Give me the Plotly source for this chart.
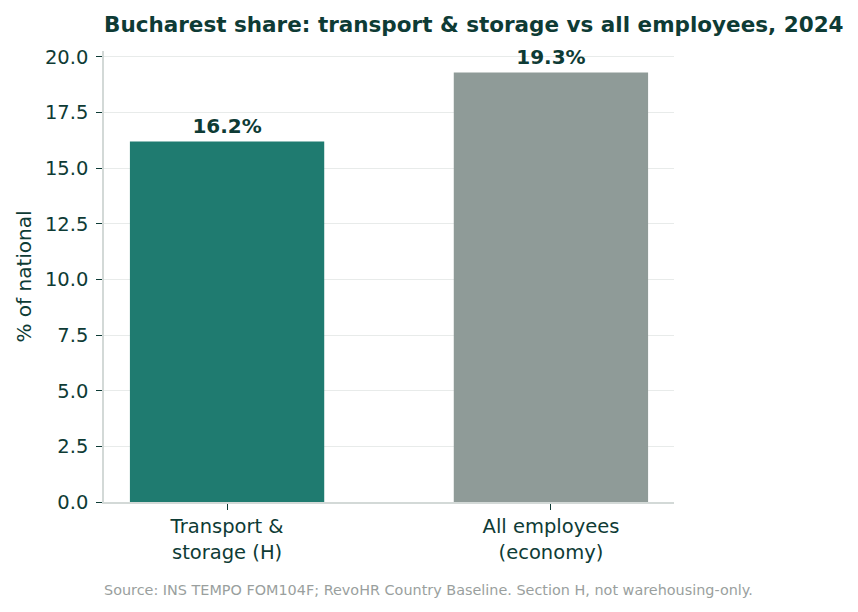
import plotly.graph_objects as go

# dane
categories = ["Transport &<br>storage (H)", "All employees<br>(economy)"]
shares = [16.2, 19.3]
bar_colors = ["#1f7b70", "#8f9b98"]
y_ticks = [0, 2.5, 5, 7.5, 10, 12.5, 15, 17.5, 20]

TEXT = "#0e3b35"
FONT = "DejaVu Sans"

fig = go.Figure(
    go.Bar(
        x=[0, 1],
        y=shares,
        width=0.6,
        marker=dict(color=bar_colors, line=dict(width=0)),
        text=[f"{v:.1f}%" for v in shares],
        textposition="outside",
        textfont=dict(family=FONT, size=20, color=TEXT, weight="bold"),
        cliponaxis=False,
        hoverinfo="skip",
    )
)

fig.update_layout(
    width=858,
    height=612,
    margin=dict(l=104, r=184, t=51, b=110),
    paper_bgcolor="white",
    plot_bgcolor="white",
    showlegend=False,
    font=dict(family=FONT, color=TEXT),
    title=dict(
        text="<b>Bucharest share: transport & storage vs all employees, 2024</b>",
        font=dict(family=FONT, size=21.5, color=TEXT),
        x=104 / 858, xref="container", xanchor="left",
        y=1 - 24 / 612, yref="container", yanchor="middle",
    ),
    xaxis=dict(
        range=[-0.38, 1.38],
        tickvals=[0, 1],
        ticktext=categories,
        tickfont=dict(size=19.5, color=TEXT),
        ticks="outside", ticklen=6, tickcolor=TEXT, tickwidth=1.3,
        showline=True, linecolor="#d3d9d7", linewidth=1.5,
        showgrid=False, zeroline=False,
    ),
    yaxis=dict(
        range=[0, 20.265],
        tickvals=y_ticks,
        tickformat=".1f",
        tickfont=dict(size=19.5, color=TEXT),
        ticks="outside", ticklen=6, tickcolor=TEXT, tickwidth=1.3,
        ticklabelstandoff=4,
        showline=True, linecolor="#d3d9d7", linewidth=1.5,
        showgrid=True, gridcolor="#e8ebea", gridwidth=1.2,
        zeroline=False,
        title=dict(text="% of national", font=dict(size=20, color=TEXT), standoff=8),
    ),
    annotations=[
        dict(
            text="Source: INS TEMPO FOM104F; RevoHR Country Baseline. Section H, not warehousing-only.",
            xref="paper", yref="paper",
            x=-2 / 570, y=-(590 - 502) / 451,
            xanchor="left", yanchor="middle",
            showarrow=False,
            font=dict(family=FONT, size=14.4, color="#9a9f9e"),
        )
    ],
)

# strona ma domyślny margines 8px – zerujemy, żeby wykres zaczynał się w (0,0)
fig.write_html(
    "out.html",
    config={"displayModeBar": False},
    post_script="document.body.style.margin='0';",
)
